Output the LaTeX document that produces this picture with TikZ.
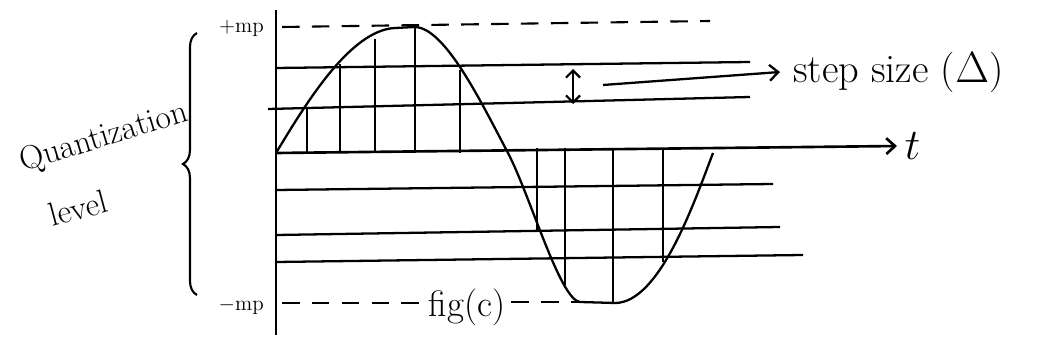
\documentclass[tikz,border=0pt]{standalone}
\usepackage{amsmath}
\usepackage{tikz}
\usetikzlibrary{
	arrows.meta,
	decorations.pathreplacing,
	positioning
}

\begin{document}
\begin{tikzpicture}[x=0.02cm, y=-0.02cm,
		ax/.style={line width=1.5pt},
		lvl/.style={line width=1.3pt},
		pk/.style={line width=1.2pt, dash pattern=on 10pt off 7pt},
		tip/.style={-{Straight Barb[length=5pt,width=9pt]}},
		hand/.style={font=\fontsize{23}{26}\selectfont},
		word/.style={font=\fontsize{19}{22}\selectfont},
		small/.style={font=\fontsize{12}{14}\selectfont}]
	\useasboundingbox (0,0) rectangle (1044,354);
	\coordinate (o) at (276,153);
	\coordinate (ytop) at (276,10);
	\coordinate (ybot) at (276,335);
	\coordinate (tend) at (897,146);
	\draw[ax] (ybot) -- (ytop);
	\draw[ax, tip] (o) -- (tend);
	\node[hand, right=1pt of tend] (tlab) {$t$};
	\draw[lvl] (276,68) -- (750,62);
	\draw[lvl] (268,109) -- (750,97);
	\draw[lvl] (276,190) -- (773,184);
	\draw[lvl] (276,235) -- (780,227);
	\draw[lvl] (276,262) -- (803,255);
	\node[small, anchor=east] (pmp) at (270,28) {$+$mp};
	\node[small, anchor=east] (mmp) at (270,306) {$-$mp};
	\coordinate (phi) at (282,27);
	\coordinate (pend) at (710,21);
	\draw[pk] (phi) -- (pend);
	\node[font=\fontsize{21}{24}\selectfont] (fig) at (467,307) {fig(c)};
	\coordinate (mlo) at (282,303);
	\coordinate (vmin) at (579,302);
	\draw[pk] (mlo) -- (mlo -| fig.west);
	\draw[pk] (fig.east |- vmin) -- (vmin);
	\draw[line width=1.3pt] (o) .. controls (305,105) and (350,30) .. (395,28)
		-- (415,27) .. controls (445,28) and (480,100) .. (508,153)
		.. controls (530,195) and (560,300) .. (580,302)
		-- (615,303) .. controls (660,303) and (695,200) .. (713,153);
	\foreach \x/\y in {307/108, 340/64, 375/39, 415/27, 460/70}
		\draw[lvl] (\x,153) -- (\x,\y);
	\foreach \x/\y in {537/232, 565/285, 613/303, 663/262}
		\draw[lvl] (\x,148) -- (\x,\y);
	\coordinate (da) at (573,69);
	\coordinate (db) at (573,104);
	\draw[lvl, {Straight Barb[length=4pt,width=8pt]}-{Straight Barb[length=4pt,width=8pt]}] (da) -- (db);
	\coordinate (ps) at (603,85);
	\coordinate (pe) at (780,72);
	\draw[lvl, tip] (ps) -- (pe);
	\node[hand, right=4pt of pe] (step) {step size ($\Delta$)};
	\draw[line width=1.2pt, decorate, decoration={brace, amplitude=8pt}] (197,295) -- (197,33);
	\node[word, rotate=17] (qz) at (104,138) {Quantization};
	\node[word, rotate=15] (lv) at (78,208) {level};
\end{tikzpicture}
\end{document}
